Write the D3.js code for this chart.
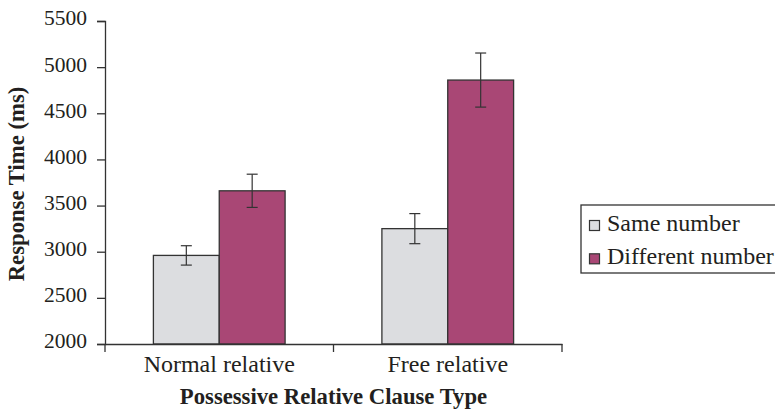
<!DOCTYPE html>
<html><head><meta charset="utf-8">
<script src="https://cdn.jsdelivr.net/npm/d3@7"></script>
<style>body{margin:0;background:#fff}svg{display:block}text{font-family:"Liberation Serif","Times New Roman",serif;fill:#231f20}</style>
</head><body>
<svg id="c" width="775" height="409"></svg>
<script>
const categories = ["Normal relative", "Free relative"];
const seriesNames = ["Same number", "Different number"];
const sameValues = [2960, 3250];
const sameErrors = [105, 163];
const diffValues = [3660, 4860];
const diffErrors = [180, 293];
const yTicks = [2000, 2500, 3000, 3500, 4000, 4500, 5000, 5500];
const colors = ["#dcdde0", "#a94775"];

const svg = d3.select("#c");
const mLeft = 105, mRight = 562, mTop = 21, mBottom = 344;
const x = d3.scaleBand().domain(categories).range([mLeft, mRight]).paddingInner(0).paddingOuter(0);
const xs = d3.scaleBand().domain(seriesNames).range([0, x.bandwidth()]).paddingInner(0).paddingOuter(0.735);
const y = d3.scaleLinear().domain([2000, 5500]).range([mBottom, mTop]);

const series = [
  {name: seriesNames[0], values: sameValues, errors: sameErrors, color: colors[0]},
  {name: seriesNames[1], values: diffValues, errors: diffErrors, color: colors[1]}
];

// bars
series.forEach(s => {
  svg.append("g").selectAll("rect").data(categories).join("rect")
    .attr("x", c => x(c) + xs(s.name))
    .attr("y", (c, i) => y(s.values[i]))
    .attr("width", xs.bandwidth())
    .attr("height", (c, i) => y(2000) - y(s.values[i]))
    .attr("fill", s.color).attr("stroke", "#333").attr("stroke-width", 1.3);
});
// error bars
series.forEach(s => {
  const g = svg.append("g").attr("stroke", "#333").attr("stroke-width", 1.2);
  categories.forEach((c, i) => {
    const cx = x(c) + xs(s.name) + xs.bandwidth() / 2;
    const hi = y(s.values[i] + s.errors[i]), lo = y(s.values[i] - s.errors[i]);
    g.append("line").attr("x1", cx).attr("x2", cx).attr("y1", hi).attr("y2", lo);
    g.append("line").attr("x1", cx - 5.5).attr("x2", cx + 5.5).attr("y1", hi).attr("y2", hi);
    g.append("line").attr("x1", cx - 5.5).attr("x2", cx + 5.5).attr("y1", lo).attr("y2", lo);
  });
});

// y axis
const ya = svg.append("g").attr("transform", `translate(${mLeft},0)`)
  .call(d3.axisLeft(y).tickValues(yTicks).tickSize(8).tickPadding(10).tickFormat(d3.format("d")));
ya.select(".domain").attr("stroke", "#333").attr("stroke-width", 1.3);
ya.selectAll(".tick line").attr("stroke", "#333").attr("stroke-width", 1.3);
ya.selectAll(".tick text").style("font-size", "21.5px").style("font-family", '"Liberation Serif",serif')
  .attr("fill", "#231f20").attr("dy", "0.18em");

// x axis
const xa = svg.append("g").attr("transform", `translate(0,${mBottom})`)
  .call(d3.axisBottom(x).tickSize(0).tickPadding(10));
xa.select(".domain").attr("stroke", "#333").attr("stroke-width", 1.3);
xa.selectAll(".tick text").style("font-size", "24px").style("font-family", '"Liberation Serif",serif')
  .attr("fill", "#231f20").attr("y", 28).attr("dy", "0");
// separator ticks at band edges
const edges = [mLeft, ...categories.map(c => x(c) + x.bandwidth())];
svg.append("g").selectAll("line").data(edges).join("line")
  .attr("x1", d => d).attr("x2", d => d).attr("y1", mBottom).attr("y2", mBottom + 8)
  .attr("stroke", "#333").attr("stroke-width", 1.3);

// axis titles
svg.append("text").attr("x", 333.5).attr("y", 404).attr("text-anchor", "middle")
  .style("font-size", "22.7px").style("font-weight", "bold").text("Possessive Relative Clause Type");
svg.append("text").attr("transform", "translate(24,184) rotate(-90)").attr("text-anchor", "middle")
  .style("font-size", "22.7px").style("font-weight", "bold").text("Response Time (ms)");

// legend
const lg = svg.append("g");
lg.append("rect").attr("x", 581).attr("y", 205).attr("width", 200).attr("height", 68)
  .attr("fill", "#fff").attr("stroke", "#333").attr("stroke-width", 1.3);
series.forEach((s, i) => {
  lg.append("rect").attr("x", 589.5).attr("y", 220.5 + i * 33.3).attr("width", 10).attr("height", 10)
    .attr("fill", s.color).attr("stroke", "#333").attr("stroke-width", 1.2);
  lg.append("text").attr("x", 607).attr("y", 230.7 + i * 33.3).style("font-size", "24px").text(s.name);
});
</script>
</body></html>
